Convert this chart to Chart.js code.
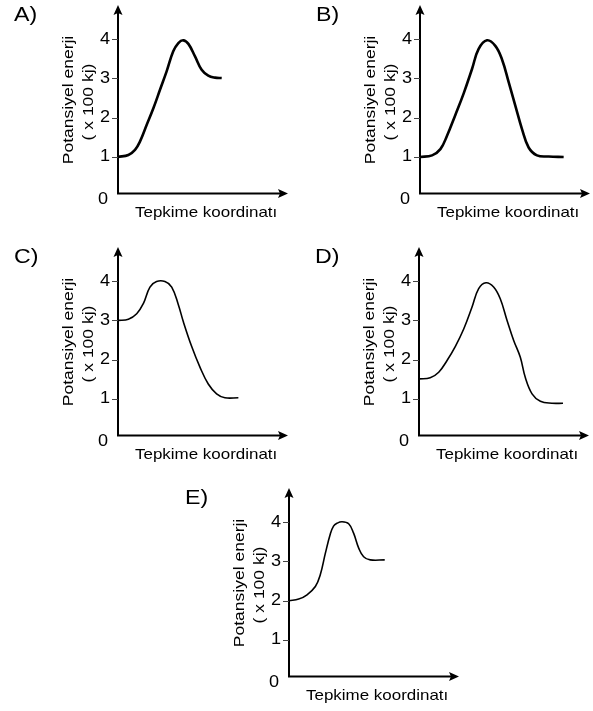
<!DOCTYPE html>
<html>
<head>
<meta charset="utf-8">
<script src="https://cdn.jsdelivr.net/npm/chart.js@4/dist/chart.umd.min.js"></script>
<style>
html,body{margin:0;padding:0;background:#fff;overflow:hidden;width:593px;height:711px;position:relative}
canvas{position:absolute}
</style>
</head>
<body>
<canvas id="cA" width="291" height="230" style="left:0px;top:0px"></canvas>
<canvas id="cB" width="291" height="230" style="left:302px;top:0px"></canvas>
<canvas id="cC" width="291" height="230" style="left:0px;top:242px"></canvas>
<canvas id="cD" width="291" height="230" style="left:301px;top:242px"></canvas>
<canvas id="cE" width="291" height="230" style="left:171px;top:483px"></canvas>
<script>
// ---- texts ----
const panelLabels = ['A)', 'B)', 'C)', 'D)', 'E)'];
const xAxisTitle = 'Tepkime koordinatı';
const yAxisTitle = ['Potansiyel enerji', '( x 100 kj)'];
const yTickValues = [0, 1, 2, 3, 4];

// ---- data: reaction coordinate (arbitrary units) and potential energy (x100 kJ) ----
const coordA  = [0, 0.61, 1.0, 1.29, 1.69, 2.08, 2.47, 2.86, 3.25, 3.55, 3.84, 4.14, 4.53, 4.92, 5.31, 5.71, 6.1];
const energyA = [1.0, 1.05, 1.18, 1.39, 1.82, 2.24, 2.71, 3.18, 3.69, 3.9, 3.97, 3.88, 3.56, 3.22, 3.07, 3.02, 3.01];

const coordB  = [0, 0.71, 1.2, 1.59, 2.08, 2.57, 3.06, 3.45, 3.94, 4.43, 4.82, 5.22, 5.61, 6.0, 6.39, 6.88, 7.57, 8.45];
const energyB = [1.0, 1.04, 1.2, 1.54, 2.07, 2.62, 3.24, 3.75, 3.97, 3.83, 3.49, 2.9, 2.3, 1.71, 1.24, 1.04, 1.01, 1.0];

const coordC  = [0, 0.61, 1.1, 1.49, 1.88, 2.27, 2.76, 3.16, 3.55, 3.84, 4.33, 4.82, 5.31, 5.8, 6.29, 7.08];
const energyC = [3.0, 3.03, 3.17, 3.43, 3.85, 3.99, 3.99, 3.85, 3.4, 2.97, 2.34, 1.81, 1.38, 1.13, 1.03, 1.03];

const coordD  = [0, 0.66, 1.16, 1.65, 2.14, 2.63, 3.12, 3.51, 3.94, 4.39, 4.78, 5.18, 5.57, 5.96, 6.25, 6.65, 7.14, 7.82, 8.47];
const energyD = [1.51, 1.54, 1.68, 1.98, 2.34, 2.78, 3.34, 3.81, 3.96, 3.85, 3.55, 3.0, 2.49, 2.06, 1.55, 1.13, 0.94, 0.89, 0.89];

const coordE  = [0, 0.57, 1.06, 1.55, 1.84, 2.14, 2.43, 2.62, 2.82, 3.12, 3.51, 3.8, 4.1, 4.39, 4.78, 5.63];
const energyE = [2.0, 2.04, 2.15, 2.36, 2.66, 3.21, 3.7, 3.9, 3.97, 4.01, 3.96, 3.72, 3.34, 3.12, 3.04, 3.04];

// ---- styles / layout ----
const FONT = '"Liberation Sans", Arial, Helvetica, sans-serif';
const STRETCH = 1.13;
const panels = [
  { id: 'cA', label: panelLabels[0], xs: coordA, ys: energyA, lw: 2.6 },
  { id: 'cB', label: panelLabels[1], xs: coordB, ys: energyB, lw: 2.6 },
  { id: 'cC', label: panelLabels[2], xs: coordC, ys: energyC, lw: 1.6 },
  { id: 'cD', label: panelLabels[3], xs: coordD, ys: energyD, lw: 1.6 },
  { id: 'cE', label: panelLabels[4], xs: coordE, ys: energyE, lw: 1.6 }
];

function stretchedText(ctx, text, x, y, align) {
  ctx.save();
  ctx.translate(x, y);
  ctx.scale(STRETCH, 1);
  ctx.textAlign = align;
  ctx.fillText(text, 0, 0);
  ctx.restore();
}

const axesPlugin = {
  id: 'energyAxes',
  beforeDatasetsDraw(chart, args, opts) {
    const ctx = chart.ctx;
    const xs = chart.scales.x, ys = chart.scales.y;
    const ca = chart.chartArea;
    const ax = xs.getPixelForValue(0);
    const ay = ys.getPixelForValue(0) - 2.8;   // horizontal axis line
    const topY = ca.top, rightX = ca.right;
    ctx.save();
    ctx.fillStyle = '#000';
    ctx.strokeStyle = '#000';
    // axes lines
    ctx.lineWidth = 2;
    ctx.beginPath();
    ctx.moveTo(ax, ay + 1);
    ctx.lineTo(ax, topY + 7);
    ctx.moveTo(ax - 1, ay);
    ctx.lineTo(rightX - 7, ay);
    ctx.stroke();
    // arrow heads
    ctx.beginPath();
    ctx.moveTo(ax, topY);
    ctx.lineTo(ax + 4.5, topY + 10);
    ctx.lineTo(ax, topY + 8);
    ctx.lineTo(ax - 4.5, topY + 10);
    ctx.closePath();
    ctx.fill();
    ctx.beginPath();
    ctx.moveTo(rightX, ay);
    ctx.lineTo(rightX - 10, ay - 4.5);
    ctx.lineTo(rightX - 8, ay);
    ctx.lineTo(rightX - 10, ay + 4.5);
    ctx.closePath();
    ctx.fill();
    // ticks + labels
    ctx.lineWidth = 1;
    ctx.font = '16px ' + FONT;
    ctx.textBaseline = 'middle';
    yTickValues.forEach(v => {
      const py = ys.getPixelForValue(v);
      if (v !== 0) {
        ctx.strokeStyle = '#444';
        ctx.beginPath();
        ctx.moveTo(ax - 6, Math.round(py) + 0.5);
        ctx.lineTo(ax, Math.round(py) + 0.5);
        ctx.stroke();
        stretchedText(ctx, String(v), ax - 8, py, 'right');
      } else {
        stretchedText(ctx, String(v), ax - 10, py + 3, 'right');
      }
    });
    // x title
    ctx.textBaseline = 'alphabetic';
    ctx.font = '15px ' + FONT;
    stretchedText(ctx, xAxisTitle, ax + 17, ay + 23.5, 'left');
    // y title (rotated, two lines)
    const yCenters = [100, 102];
    const baseX = [ax - 45, ax - 25.5];
    ctx.font = '15.5px ' + FONT;
    yAxisTitle.forEach((t, i) => {
      ctx.save();
      ctx.translate(baseX[i], yCenters[i]);
      ctx.rotate(-Math.PI / 2);
      ctx.scale(STRETCH, 1);
      ctx.textAlign = 'center';
      ctx.fillText(t, 0, 0);
      ctx.restore();
    });
    // panel label
    ctx.font = '20.5px ' + FONT;
    stretchedText(ctx, opts.label, 14, 21, 'left');
    ctx.restore();
  }
};

panels.forEach(p => {
  new Chart(document.getElementById(p.id), {
    type: 'line',
    data: {
      datasets: [{
        data: p.xs.map((x, i) => ({ x: x, y: p.ys[i] })),
        borderColor: '#000',
        borderWidth: p.lw,
        pointRadius: 0,
        fill: false,
        tension: 0.4,
        borderCapStyle: 'butt',
        borderJoinStyle: 'round',
        clip: false
      }]
    },
    options: {
      responsive: false,
      animation: false,
      devicePixelRatio: 1,
      layout: { padding: { left: 118, right: 3, top: 5, bottom: 33.8 } },
      scales: {
        x: { type: 'linear', min: 0, max: 10, display: false },
        y: { type: 'linear', min: 0, max: 4.87, display: false }
      },
      plugins: {
        legend: { display: false },
        tooltip: { enabled: false },
        energyAxes: { label: p.label }
      },
      events: []
    },
    plugins: [axesPlugin]
  });
});
</script>
</body>
</html>
